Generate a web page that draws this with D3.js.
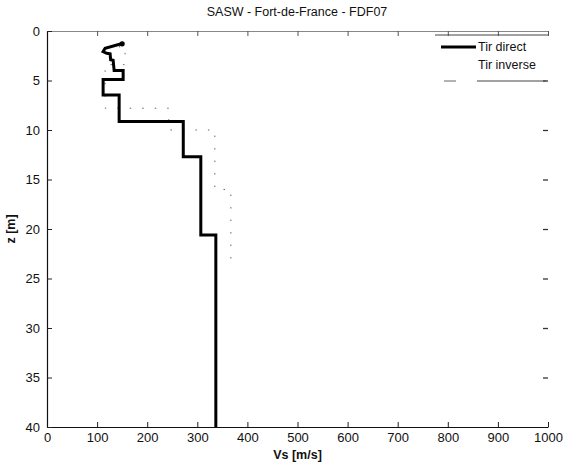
<!DOCTYPE html>
<html>
<head>
<meta charset="utf-8">
<script src="https://cdn.jsdelivr.net/npm/d3@7"></script>
<style>
  html, body { margin: 0; padding: 0; background: #fff; }
  svg { display: block; font-family: "Liberation Sans", Arial, sans-serif; }
</style>
</head>
<body>
<svg id="chart" width="565" height="462"></svg>
<script>
// ---------- data ----------
const titleText = "SASW - Fort-de-France - FDF07";
const xLabel = "Vs [m/s]";
const yLabel = "z [m]";
const xTicks = [0, 100, 200, 300, 400, 500, 600, 700, 800, 900, 1000];
const yTicks = [0, 5, 10, 15, 20, 25, 30, 35, 40];

// "Tir direct" profile (polyline points)
const directVs = [152, 116, 112, 119, 126, 127, 132, 134, 152, 152, 112, 112, 144, 144, 272, 272, 307, 307, 337, 337];
const directZ  = [1.24, 1.75, 2.09, 2.25, 2.3, 2.9, 2.95, 4.0, 4.0, 4.9, 4.9, 6.46, 6.46, 9.15, 9.15, 12.7, 12.7, 20.6, 20.6, 40];

// "Tir inverse" profile (layer boundaries and velocities)
const inverseBounds = [1.5, 2.25, 3.4, 7.8, 10.0, 16.0, 24.0];
const inverseVs     = [145, 156, 116, 243, 335, 367];

const legendNames = ["Tir direct", "Tir inverse"];

// ---------- layout ----------
const svg = d3.select("#chart");
const L = 47, R = 548, T = 31, B = 427;

const x = d3.scaleLinear().domain([0, 1000]).range([L, R]);
const y = d3.scaleLinear().domain([0, 40]).range([T, B]);

// title
svg.append("text").attr("x", 297).attr("y", 16).attr("text-anchor", "middle")
  .attr("font-size", 12.5).attr("fill", "#111").text(titleText);

// axes
const gBottom = svg.append("g").attr("transform", `translate(0,${B})`)
  .call(d3.axisBottom(x).tickValues(xTicks).tickSizeInner(-5).tickSizeOuter(0).tickPadding(6).tickFormat(d3.format("d")));
const gTop = svg.append("g").attr("transform", `translate(0,${T})`)
  .call(d3.axisTop(x).tickValues(xTicks).tickSizeInner(-5).tickSizeOuter(0).tickFormat(""));
const gLeft = svg.append("g").attr("transform", `translate(${L},0)`)
  .call(d3.axisLeft(y).tickValues(yTicks).tickSizeInner(-5).tickSizeOuter(0).tickPadding(7).tickFormat(d3.format("d")));
const gRight = svg.append("g").attr("transform", `translate(${R},0)`)
  .call(d3.axisRight(y).tickValues(yTicks.slice(1, -1)).tickSizeInner(-5).tickSizeOuter(0).tickFormat(""));

[gBottom, gLeft].forEach(g => {
  g.select(".domain").attr("stroke", "#111").attr("stroke-width", 1.2);
  g.selectAll(".tick line").attr("stroke", "#222");
  g.selectAll(".tick text").attr("font-size", 13).attr("fill", "#111")
    .attr("font-family", "'Liberation Sans', Arial, sans-serif");
});
gTop.select(".domain").attr("stroke", "#888").attr("stroke-width", 1);
gTop.selectAll(".tick line").attr("stroke", "#555");
gRight.select(".domain").remove();
gRight.selectAll(".tick line").attr("stroke", "#333").attr("stroke-width", 1.3);

// axis labels
svg.append("text").attr("x", (L + R) / 2).attr("y", 459).attr("text-anchor", "middle")
  .attr("font-size", 12.5).attr("font-weight", "bold").attr("fill", "#111").text(xLabel);
svg.append("text").attr("transform", `translate(15,${(T + B) / 2}) rotate(-90)`)
  .attr("text-anchor", "middle").attr("font-size", 12.5).attr("font-weight", "bold").attr("fill", "#111").text(yLabel);

// inverse profile (dashed, faint)
const invPts = [];
inverseVs.forEach((v, i) => {
  invPts.push([v, inverseBounds[i]]);
  invPts.push([v, inverseBounds[i + 1]]);
});
const line = d3.line().x(d => x(d[0])).y(d => y(d[1]));
svg.append("path").datum(invPts).attr("d", line)
  .attr("fill", "none").attr("stroke", "#666").attr("stroke-width", 1)
  .attr("stroke-dasharray", "1.5,11");

// direct profile (thick)
const dirPts = directVs.map((v, i) => [v, directZ[i]]);
svg.append("path").datum(dirPts).attr("d", line)
  .attr("fill", "none").attr("stroke", "#000").attr("stroke-width", 3)
  .attr("stroke-linejoin", "miter");
// blob at start
svg.append("circle").attr("cx", x(directVs[0]) - 1).attr("cy", y(directZ[0]) + 0.5).attr("r", 2.6).attr("fill", "#000");

// legend
const lg = svg.append("g");
lg.append("line").attr("x1", 435).attr("x2", R).attr("y1", 35).attr("y2", 35).attr("stroke", "#444").attr("stroke-width", 1);
lg.append("line").attr("x1", 477).attr("x2", R - 2).attr("y1", 81).attr("y2", 81).attr("stroke", "#444").attr("stroke-width", 1);
lg.append("line").attr("x1", 444).attr("x2", 456).attr("y1", 81).attr("y2", 81).attr("stroke", "#666").attr("stroke-width", 1);
lg.append("line").attr("x1", 441).attr("x2", 476).attr("y1", 47).attr("y2", 47).attr("stroke", "#000").attr("stroke-width", 3);
legendNames.forEach((n, i) => {
  lg.append("text").attr("x", 478).attr("y", 51 + i * 18).attr("font-size", 12.5).attr("fill", "#111").text(n);
});
</script>
</body>
</html>
